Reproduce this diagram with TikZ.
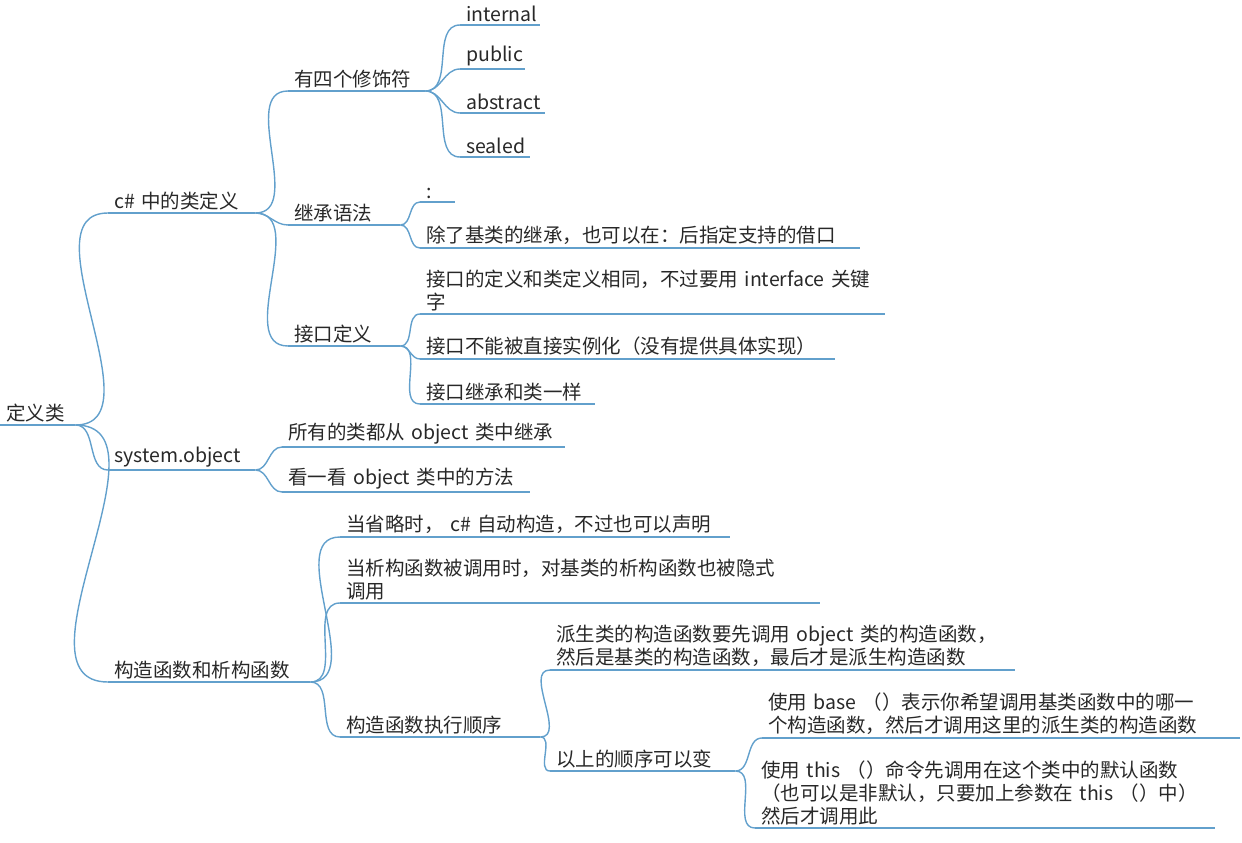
\documentclass[tikz,border=0pt]{standalone}
\usepackage{fontspec}
\setmainfont{Noto Sans CJK SC}
\usepackage{xcolor}
\definecolor{mmblue}{RGB}{98,160,204}
\definecolor{mmtext}{RGB}{40,40,40}
\tikzset{
  mmtopic/.style={anchor=south west, inner xsep=6pt, inner ysep=3pt, align=left,
    text=mmtext, font=\fontsize{19.5}{23}\selectfont},
  mmline/.style={draw=mmblue, line width=1.4pt},
  mmlink/.style={draw=mmblue, line width=1.4pt}
}
% topic with underline: name, left x, right x, underline y, text
\newcommand{\mmnode}[5]{%
  \pgfmathsetmacro{\mmw}{#3-#2-12}%
  \node[mmtopic, text width=\mmw pt] (#1) at (#2,#4) {#5};
  \draw[mmline] (#1.south west) -- (#1.south east);}
\newcommand{\mmlink}[2]{\draw[mmlink] (#1.south east) to[out=0,in=180] (#2.south west);}

\begin{document}
\begin{tikzpicture}[x=1pt,y=-1pt]
\useasboundingbox (0,0) rectangle (1242,843);

\mmnode{root}{0}{75}{425}{定义类}

\mmnode{classdef}{108}{255}{213}{c\# 中的类定义}
\mmnode{mods}{288}{425}{91}{有四个修饰符}
\mmnode{internal}{460}{540}{25}{internal}
\mmnode{public}{460}{525}{69}{public}
\mmnode{abstract}{460}{545}{113}{abstract}
\mmnode{sealed}{460}{530}{157}{sealed}
\mmnode{inherit}{288}{400}{225}{继承语法}
\mmnode{colon}{420}{455}{202}{:}
\mmnode{inheritb}{420}{860}{248}{除了基类的继承，也可以在：后指定支持的借口}
\mmnode{iface}{288}{400}{346}{接口定义}
\mmnode{ifacea}{420}{885}{314}{接口的定义和类定义相同，不过要用 interface 关键\\字}
\mmnode{ifaceb}{420}{835}{359}{接口不能被直接实例化（没有提供具体实现）}
\mmnode{ifacec}{420}{595}{404}{接口继承和类一样}

\mmnode{sysobj}{108}{255}{470}{system.object}
\mmnode{sysa}{282}{565}{447}{所有的类都从 object 类中继承}
\mmnode{sysb}{282}{530}{492}{看一看 object 类中的方法}

\mmnode{ctor}{108}{310}{682}{构造函数和析构函数}
\mmnode{ctora}{340}{730}{537}{当省略时， c\# 自动构造，不过也可以声明}
\mmnode{ctorb}{340}{820}{603}{当析构函数被调用时，对基类的析构函数也被隐式\\调用}
\mmnode{order}{340}{540}{737}{构造函数执行顺序}
\mmnode{ordera}{550}{1015}{670}{派生类的构造函数要先调用 object 类的构造函数，\\然后是基类的构造函数，最后才是派生构造函数}
\mmnode{orderb}{550}{735}{771}{以上的顺序可以变}
\mmnode{base}{762}{1240}{738}{使用 base （）表示你希望调用基类函数中的哪一\\个构造函数，然后才调用这里的派生类的构造函数}
\mmnode{this}{755}{1215}{828}{使用 this （）命令先调用在这个类中的默认函数\\（也可以是非默认，只要加上参数在 this （）中）\\然后才调用此}

\mmlink{root}{classdef}
\mmlink{root}{sysobj}
\mmlink{root}{ctor}
\mmlink{classdef}{mods}
\mmlink{classdef}{inherit}
\mmlink{classdef}{iface}
\mmlink{mods}{internal}
\mmlink{mods}{public}
\mmlink{mods}{abstract}
\mmlink{mods}{sealed}
\mmlink{inherit}{colon}
\mmlink{inherit}{inheritb}
\mmlink{iface}{ifacea}
\mmlink{iface}{ifaceb}
\mmlink{iface}{ifacec}
\mmlink{sysobj}{sysa}
\mmlink{sysobj}{sysb}
\mmlink{ctor}{ctora}
\mmlink{ctor}{ctorb}
\mmlink{ctor}{order}
\mmlink{order}{ordera}
\mmlink{order}{orderb}
\mmlink{orderb}{base}
\mmlink{orderb}{this}
\end{tikzpicture}
\end{document}
